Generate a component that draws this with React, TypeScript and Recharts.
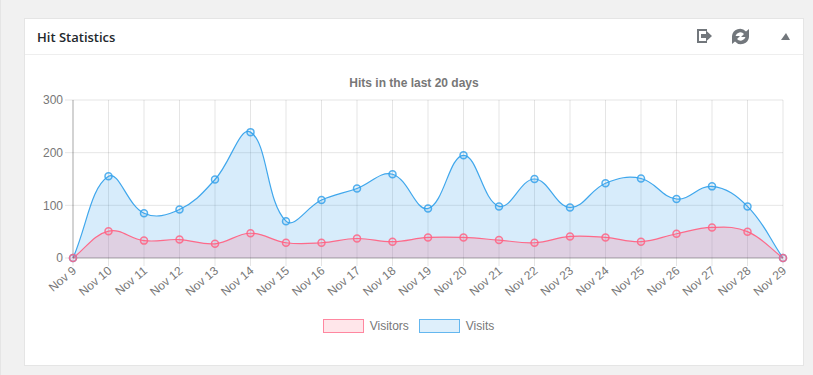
import { Area, CartesianGrid, ComposedChart, Legend, XAxis, YAxis } from "recharts";

const days = ["Nov 9", "Nov 10", "Nov 11", "Nov 12", "Nov 13", "Nov 14", "Nov 15", "Nov 16", "Nov 17", "Nov 18", "Nov 19", "Nov 20", "Nov 21", "Nov 22", "Nov 23", "Nov 24", "Nov 25", "Nov 26", "Nov 27", "Nov 28", "Nov 29"];
const visits = [0, 155, 85, 92, 149, 239, 70, 110, 132, 159, 94, 195, 98, 150, 96, 142, 151, 112, 136, 98, 0];
const visitors = [0, 51, 33, 35, 27, 47, 29, 29, 37, 31, 39, 39, 34, 29, 41, 39, 31, 46, 58, 50, 0];
const yTicks = [0, 100, 200, 300];

const data = days.map((day, i) => ({ day, visits: visits[i], visitors: visitors[i] }));

const FONT = '"Liberation Sans", Arial, sans-serif';

// same bezier control points as the original spline (tension 0.4), passed to Area as a curve factory
function splineCurve(context: any) {
  let line = NaN;
  let pts: [number, number][] = [];
  return {
    areaStart() {
      line = 0;
    },
    areaEnd() {
      line = NaN;
    },
    lineStart() {
      pts = [];
    },
    point(x: number, y: number) {
      pts.push([+x, +y]);
    },
    lineEnd() {
      const t = 0.4;
      const ctrl = pts.map((p, i) => {
        const a = pts[i - 1] || p;
        const b = pts[i + 1] || p;
        const d01 = Math.hypot(p[0] - a[0], p[1] - a[1]);
        const d12 = Math.hypot(b[0] - p[0], b[1] - p[1]);
        const sum = d01 + d12 || 1;
        const fa = (t * d01) / sum;
        const fb = (t * d12) / sum;
        return {
          px: p[0] - fa * (b[0] - a[0]),
          py: p[1] - fa * (b[1] - a[1]),
          nx: p[0] + fb * (b[0] - a[0]),
          ny: p[1] + fb * (b[1] - a[1]),
        };
      });
      pts.forEach((p, i) => {
        if (i === 0) {
          if (line) context.lineTo(p[0], p[1]);
          else context.moveTo(p[0], p[1]);
        } else {
          context.bezierCurveTo(ctrl[i - 1].nx, ctrl[i - 1].ny, ctrl[i].px, ctrl[i].py, p[0], p[1]);
        }
      });
      if (line) context.closePath();
      line = 1 - line;
    },
  };
}

function DayTick({ x, y, payload }: any) {
  return (
    <text
      transform={`translate(${x + 4},${y + 4}) rotate(-40)`}
      textAnchor="end"
      fontFamily={FONT}
      fontSize={12}
      fill="#777"
    >
      {payload.value}
    </text>
  );
}

function LegendBoxes({ payload }: any) {
  return (
    <div style={{ display: "flex", justifyContent: "center", paddingLeft: 14, fontFamily: FONT, fontSize: 12, color: "#777" }}>
      {(payload || []).map((item: any) => (
        <div key={item.value} style={{ display: "flex", alignItems: "center", marginRight: 10 }}>
          <span
            style={{
              display: "inline-block",
              boxSizing: "border-box",
              width: 41,
              height: 14,
              marginRight: 6,
              background: item.payload.fill,
              border: `1.5px solid ${item.payload.stroke}`,
              opacity: 0.8,
            }}
          />
          {item.value}
        </div>
      ))}
    </div>
  );
}

function Icons() {
  return (
    <svg width={120} height={20} style={{ position: "absolute", left: 690, top: 27 }} fill="#72777c">
      <path d="M7 2H17V4H9V14H17V16H7Z" />
      <path d="M11 7H16V3.5L22 9L16 14.5V11H11Z" />
      <path d="M42 9A8 8 0 0 1 56 4.500L59 2V10H51L54 7A5 5 0 0 0 45.500 9Z" />
      <path d="M59 10A8 8 0 0 1 45 14.500L42 17V9H50L47 12A5 5 0 0 0 55.500 10Z" />
      <path d="M91 13L96 6L100 13Z" />
    </svg>
  );
}

export default function App() {
  return (
    <div style={{ position: "fixed", inset: 0, background: "#f1f1f1", overflow: "hidden" }}>
      <div style={{ position: "absolute", left: 0, top: 0, bottom: 0, width: 1, background: "#e5e5e5" }} />
      <div
        style={{
          position: "absolute",
          left: 24,
          top: 18,
          width: 780,
          height: 348,
          boxSizing: "border-box",
          background: "#fff",
          border: "1px solid #e5e5e5",
        }}
      />
      <div style={{ position: "absolute", left: 25, top: 54, width: 778, height: 1, background: "#eee" }} />
      <div style={{ position: "absolute", left: 37, top: 28, fontFamily: '"Open Sans", sans-serif', fontSize: 13, fontWeight: 600, color: "#23282d" }}>
        Hit Statistics
      </div>
      <Icons />
      <div style={{ position: "absolute", left: 0, top: 76, width: 828, textAlign: "center", fontFamily: FONT, fontSize: 12, fontWeight: 700, color: "#777" }}>
        Hits in the last 20 days
      </div>
      <ComposedChart
        width={813}
        height={375}
        data={data}
        margin={{ top: 100, right: 30, bottom: 0, left: 24 }}
        style={{ position: "absolute", left: 0, top: 0 }}
      >
        <CartesianGrid stroke="rgba(0,0,0,0.1)" />
        <XAxis
          dataKey="day"
          scale="point"
          interval={0}
          height={67}
          tick={DayTick}
          tickSize={8}
          tickLine={{ stroke: "rgba(0,0,0,0.1)" }}
          axisLine={{ stroke: "rgba(0,0,0,0.25)" }}
        />
        <YAxis
          width={49}
          domain={[0, 300]}
          ticks={yTicks}
          tick={{ fontFamily: FONT, fontSize: 12, fill: "#777" }}
          tickSize={8}
          tickLine={{ stroke: "rgba(0,0,0,0.1)" }}
          axisLine={{ stroke: "rgba(0,0,0,0.25)" }}
        />
        <Area
          dataKey="visits"
          name="Visits"
          type={splineCurve as any}
          stroke="rgba(54,162,235,0.95)"
          strokeWidth={1.2}
          fill="rgba(54,162,235,0.2)"
          fillOpacity={1}
          dot={{ r: 3.5, strokeWidth: 1.5, stroke: "rgba(54,162,235,0.85)", fill: "rgba(54,162,235,0.1)", fillOpacity: 1 }}
          isAnimationActive={false}
        />
        <Area
          dataKey="visitors"
          name="Visitors"
          type={splineCurve as any}
          stroke="rgba(255,99,132,0.95)"
          strokeWidth={1.2}
          fill="rgba(255,99,132,0.2)"
          fillOpacity={1}
          dot={{ r: 3.5, strokeWidth: 1.5, stroke: "rgba(255,99,132,0.85)", fill: "rgba(255,99,132,0.1)", fillOpacity: 1 }}
          isAnimationActive={false}
        />
        <Legend height={50} verticalAlign="bottom" content={LegendBoxes} wrapperStyle={{ top: 319, left: 0, width: 813 }} />
      </ComposedChart>
    </div>
  );
}
